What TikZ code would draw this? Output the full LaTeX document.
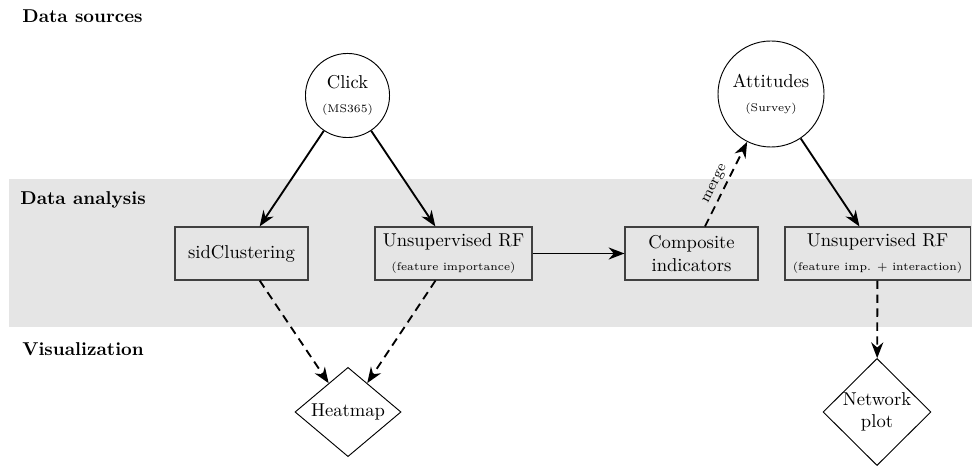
\documentclass[tikz,border=0pt]{standalone}
\usetikzlibrary{shapes.geometric,arrows.meta}
\newcommand{\subtxt}{\fontsize{6}{7}\selectfont}
\begin{document}
\begin{tikzpicture}[x=0.5376pt,y=-0.5376pt,
  box/.style={draw=black!75, fill=black!10, line width=0.6pt, minimum height=28.5pt, align=center, inner sep=2pt},
  src/.style={circle, draw, fill=white, line width=0.5pt, align=center, inner sep=0pt},
  viz/.style={diamond, draw, fill=white, line width=0.5pt, align=center, inner sep=0pt, aspect=1.2},
  arr/.style={-{Stealth[length=8.5pt,width=6.5pt]}, line width=1pt},
  darr/.style={arr, dash pattern=on 4.5pt off 3pt},
  lbl/.style={font=\bfseries, anchor=west, inner sep=0pt}]
\useasboundingbox (0,0) rectangle (972,466);
\fill[black!10] (9,179) rectangle (972,327.5);
\node[lbl] (ls) at (22,16) {Data sources};
\node[lbl] (la) at (20,200) {Data analysis};
\node[lbl] (lv) at (22,349) {Visualization};
\node[src, minimum size=45.2pt] (click) at (347.5,95.5) {Click\\[1pt]{\subtxt (MS365)}};
\node[src, minimum size=57pt] (att) at (771,94) {Attitudes\\[1pt]{\subtxt (Survey)}};
\node[box, minimum width=71.5pt] (sid) at (241.5,253.5) {sidClustering};
\node[box, minimum width=84.4pt] (rf1) at (453.5,253.5) {Unsupervised RF\\[1pt]{\subtxt (feature importance)}};
\node[box, minimum width=71.5pt] (comp) at (691.5,253.5) {Composite\\indicators};
\node[box, minimum width=99.5pt] (rf2) at (877.5,253.5) {Unsupervised RF\\[1pt]{\subtxt (feature imp. $+$ interaction)}};
\node[viz, minimum width=57pt, minimum height=48pt] (heat) at (348,412) {Heatmap};
\node[viz, minimum width=58pt, minimum height=57pt, aspect=1] (net) at (877,412) {Network\\plot};
\draw[arr] (click) -- (sid);
\draw[arr] (click) -- (rf1);
\draw[arr] (rf1) -- (comp);
\draw[arr] (att) -- (rf2);
\draw[darr] (comp) -- node[sloped, above, pos=0.45, font=\footnotesize, inner sep=2pt] {merge} (att);
\draw[darr] (sid) -- (heat);
\draw[darr] (rf1) -- (heat);
\draw[darr] (rf2) -- (net);
\end{tikzpicture}
\end{document}
